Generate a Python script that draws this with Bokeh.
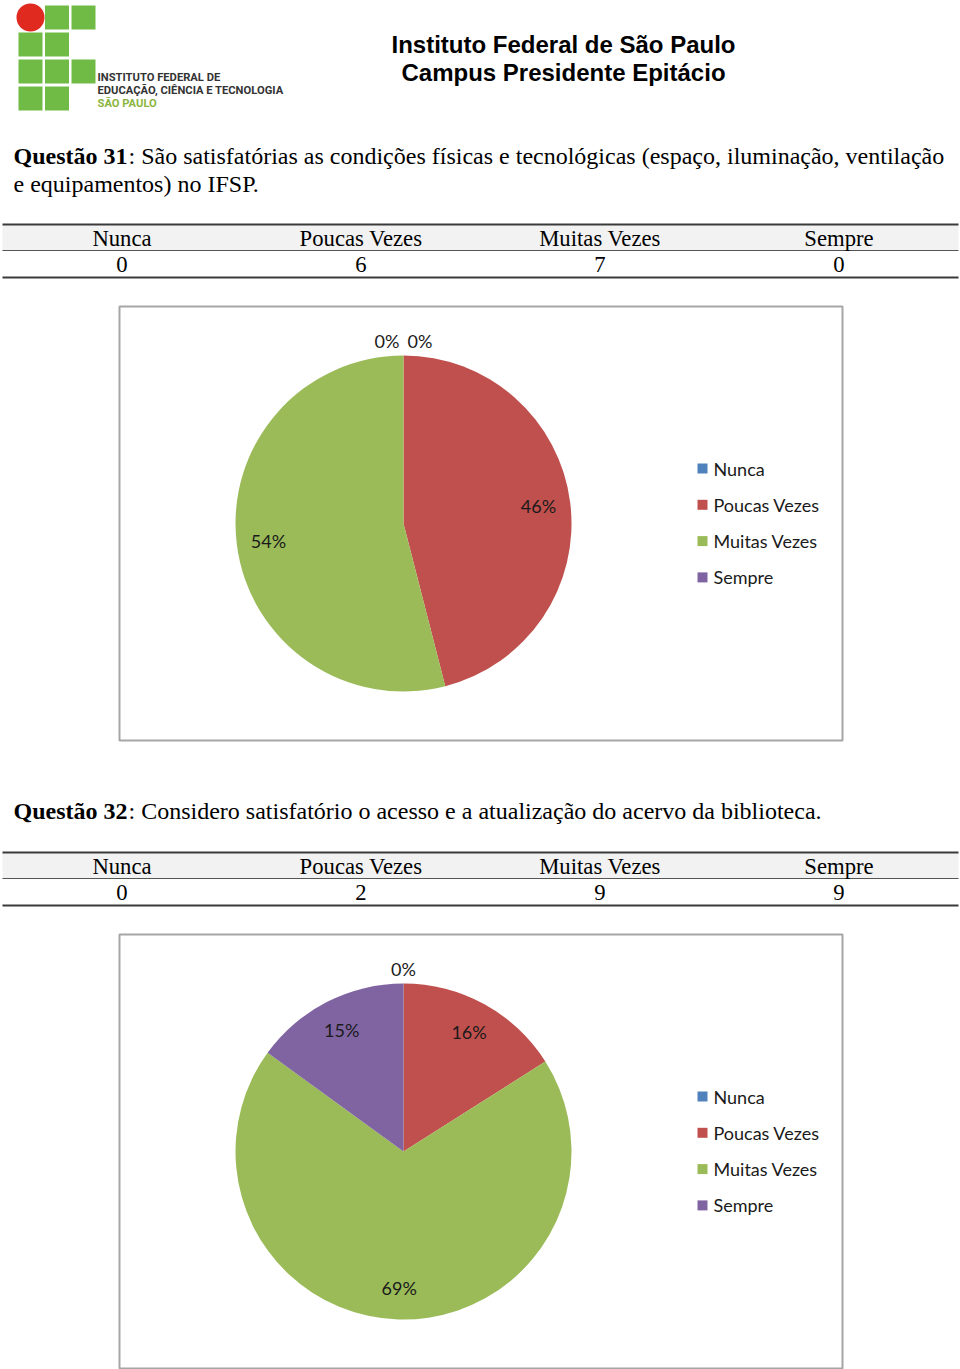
import math
from bokeh.plotting import figure
from bokeh.models import Range1d
from bokeh.core.properties import value
from bokeh.embed import file_html
from bokeh.resources import INLINE

# ---------------- data ----------------
categories = ["Nunca", "Poucas Vezes", "Muitas Vezes", "Sempre"]
q31_counts = ["0", "6", "7", "0"]
q31_pct = [0, 46, 54, 0]
q32_counts = ["0", "2", "9", "9"]
q32_pct = [0, 16, 69, 15]
slice_colors = ["#4F81BD", "#C0504D", "#9BBB59", "#8064A2"]

header_lines = ["Instituto Federal de São Paulo", "Campus Presidente Epitácio"]
logo_lines = ["INSTITUTO FEDERAL DE", "EDUCAÇÃO, CIÊNCIA E TECNOLOGIA", "SÃO PAULO"]
q31_bold = "Questão 31"
q31_text = [": São satisfatórias as condições físicas e tecnológicas (espaço, iluminação, ventilação",
            "e equipamentos) no IFSP."]
q32_bold = "Questão 32"
q32_text = ": Considero satisfatório o acesso e a atualização do acervo da biblioteca."

# ---------------- canvas ----------------
W, H = 960, 1369


def fs(px):
    return f"{px:.1f}px"


p = figure(width=W, height=H, x_range=Range1d(0, W), y_range=Range1d(H, 0),
           output_backend="svg", toolbar_location=None, min_border=0)
p.axis.visible = False
p.grid.visible = False
p.outline_line_color = None
p.background_fill_color = "white"

SERIF = value("Liberation Serif")
SANS = value("Liberation Sans")
LBL = value("Lato")

# ---------------- logo ----------------
green = "#70bb46"
col_x = [30, 56.5, 83]
row_y = [17, 44, 71, 98]
pattern = [[0, 1, 1], [1, 1, 0], [1, 1, 1], [1, 1, 0]]
sx, sy = [], []
for r, row in enumerate(pattern):
    for c, on in enumerate(row):
        if on:
            sx.append(col_x[c])
            sy.append(row_y[r])
p.rect(x=sx, y=sy, width=24, height=24, fill_color=green, line_color=None)
p.circle(x=[col_x[0]], y=[row_y[0]], radius=14, fill_color="#e02a1f", line_color=None)
p.text(x=[97, 97], y=[77, 90], text=logo_lines[:2], text_font=value("Roboto"),
       text_font_style="bold", text_font_size=fs(11.2), text_color="#333333",
       text_baseline="middle")
p.text(x=[97], y=[103], text=logo_lines[2:], text_font=value("Roboto"),
       text_font_style="bold", text_font_size=fs(11.2), text_color="#8bb540",
       text_baseline="middle")

# ---------------- header ----------------
p.text(x=[563, 563], y=[44, 72], text=header_lines, text_font=SANS, text_font_style="bold",
       text_font_size=fs(24), text_color="black", text_align="center", text_baseline="middle")

# ---------------- questions ----------------
def question(bold, rest_lines, y0, x_rest):
    p.text(x=[13], y=[y0], text=[bold], text_font=SERIF, text_font_style="bold",
           text_font_size=fs(24), text_color="black", text_baseline="middle")
    xs = [x_rest] + [13] * (len(rest_lines) - 1)
    ys = [y0 + 28 * i for i in range(len(rest_lines))]
    p.text(x=xs, y=ys, text=rest_lines, text_font=SERIF, text_font_size=fs(24),
           text_color="black", text_baseline="middle")


question(q31_bold, q31_text, 155, 128)
question(q32_bold, [q32_text], 810, 128)

# ---------------- tables ----------------
def table(top, counts):
    left, right = 2, 958
    mid, bottom = top + 26, top + 53
    p.quad(left=[left], right=[right], top=[top], bottom=[mid], fill_color="#f2f2f2",
           line_color=None)
    p.segment(x0=[left, left], y0=[top, bottom], x1=[right, right], y1=[top, bottom],
              line_color="#3a3a3a", line_width=2)
    p.segment(x0=[left], y0=[mid], x1=[right], y1=[mid], line_color="#555555", line_width=1.2)
    cw = (right - left) / len(categories)
    xs = [left + cw * (i + 0.5) for i in range(len(categories))]
    p.text(x=xs, y=[top + 14] * len(xs), text=categories, text_font=SERIF,
           text_font_size=fs(22.7), text_color="black", text_align="center",
           text_baseline="middle")
    p.text(x=xs, y=[mid + 14] * len(xs), text=counts, text_font=SERIF,
           text_font_size=fs(22.7), text_color="black", text_align="center",
           text_baseline="middle")


table(224, q31_counts)
table(852, q32_counts)

# ---------------- pies ----------------
def pie(box_top, cy, pct):
    box_left, box_right = 119, 842
    p.quad(left=[box_left], right=[box_right], top=[box_top], bottom=[box_top + 434],
           fill_color=None, line_color="#a6a6a6", line_width=2)
    cx, R = 403, 168
    total = float(sum(pct))
    cum = 0.0
    starts, ends, cols = [], [], []
    lx, ly, lt = [], [], []
    zero_idx = []
    for i, v in enumerate(pct):
        f0 = cum / total
        cum += v
        f1 = cum / total
        if v > 0:
            starts.append(math.pi / 2 - 2 * math.pi * f0)
            ends.append(math.pi / 2 - 2 * math.pi * f1)
            cols.append(slice_colors[i])
            th = 2 * math.pi * (f0 + f1) / 2
            lx.append(cx + 0.81 * R * math.sin(th))
            ly.append(cy - 0.81 * R * math.cos(th))
            lt.append(f"{v}%")
        else:
            zero_idx.append(i)
    p.wedge(x=[cx] * len(starts), y=[cy] * len(starts), radius=R, start_angle=starts,
            end_angle=ends, direction="clock", fill_color=cols, line_color=None)
    # zero-valued slices sit at the top; spread their labels if several
    n = len(zero_idx)
    for k, i in enumerate(zero_idx):
        off = 0 if n == 1 else (16.5 if i < len(pct) / 2 else -16.5)
        lx.append(cx + off)
        ly.append(cy - 1.085 * R)
        lt.append(f"{pct[i]}%")
    p.text(x=lx, y=ly, text=lt, text_font=LBL, text_font_size=fs(18), text_color="#1a1a1a",
           text_align="center", text_baseline="middle")
    # legend
    ys = [box_top + 162 + 36.3 * j for j in range(len(categories))]
    p.rect(x=[702] * 4, y=ys, width=10, height=10, fill_color=slice_colors, line_color=None)
    p.text(x=[713] * 4, y=ys, text=categories, text_font=LBL, text_font_size=fs(18),
           text_color="#1a1a1a", text_baseline="middle")


pie(306, 523, q31_pct)
pie(934, 1151, q32_pct)

open("out.html", "w").write(file_html(p, INLINE))
